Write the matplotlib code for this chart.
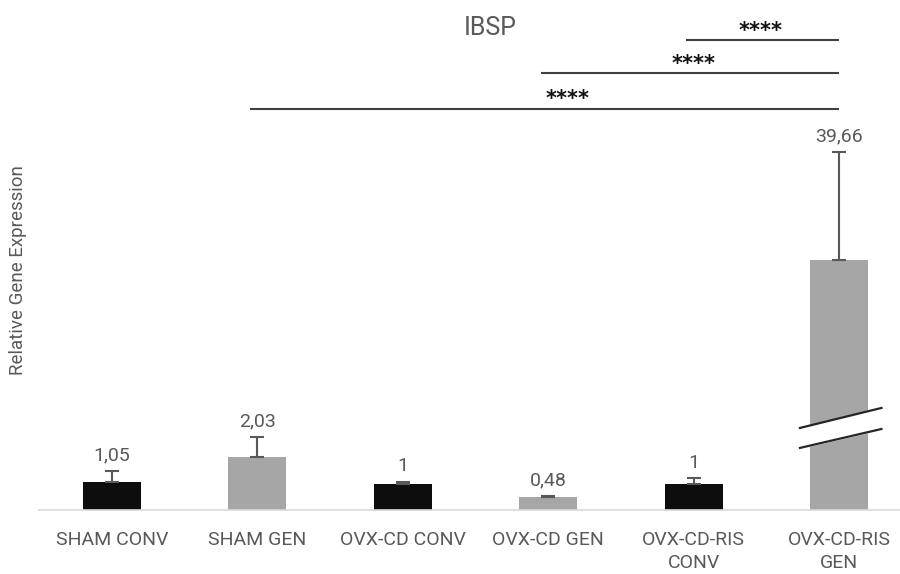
import matplotlib
matplotlib.use('Agg')
from matplotlib import pyplot as plt

# data
groups = ['SHAM CONV', 'SHAM GEN', 'OVX-CD CONV', 'OVX-CD GEN',
          'OVX-CD-RIS\nCONV', 'OVX-CD-RIS\nGEN']
values = [1.05, 2.03, 1.0, 0.48, 1.0, 39.66]
value_labels = ['1,05', '2,03', '1', '0,48', '1', '39,66']
errors = [0.45, 0.76, 0.08, 0.05, 0.2, 4.1]
colours = ['#0d0d0d', '#a6a6a6', '#0d0d0d', '#a6a6a6', '#0d0d0d', '#a6a6a6']

# broken bar: last bar is drawn cut at this height (axis break)
break_height = 9.5
break_at = 3.0

# significance comparisons (from group, to group, label)
comparisons = [(4, 5, '****'), (3, 5, '****'), (1, 5, '****')]
comp_levels = [17.87, 16.6, 15.25]
star_x = [4.46, 4.0, 3.13]

grey = '#595959'

fig = plt.figure(figsize=(9, 5.74), dpi=100)
ax = fig.add_axes([39 / 900, 64 / 574, 873 / 900, 510 / 574])

x = list(range(len(groups)))
heights = values[:-1] + [break_height]
ax.bar(x, heights, width=0.4, color=colours, zorder=2)
ax.errorbar(x, heights, yerr=[[0] * len(x), errors], fmt='none',
            ecolor=grey, elinewidth=1.5, capsize=5, capthick=1.5, zorder=3)

for i in x:
    top = heights[i] + errors[i]
    ax.text(i, top + 0.25, value_labels[i], ha='center', va='bottom',
            fontsize=14, color=grey, family='Roboto')

# axis break marks on the last bar
i = x[-1]
bx = [i - 0.27, i + 0.29]
lo = [break_at - 0.64, break_at + 0.08]
hi = [break_at + 0.12, break_at + 0.88]
ax.fill_between(bx, lo, hi, color='white', zorder=4)
ax.plot(bx, lo, color='#262626', lw=1.6, zorder=5)
ax.plot(bx, hi, color='#262626', lw=1.6, zorder=5)

# significance lines
for (a, b, lab), lev, sx in zip(comparisons, comp_levels, star_x):
    ax.plot([a - 0.05, b], [lev, lev], color='#404040', lw=1.5,
            solid_capstyle='butt')
    ax.text(sx, lev + 0.36, lab, ha='center', va='center', fontsize=15,
            fontweight='bold', color='#111111')

ax.set_xlim(-0.5, 5.5)
ax.set_ylim(0, 19.39)
ax.set_xticks(x)
ax.set_xticklabels(groups, fontsize=14, color=grey, family='Roboto',
                   linespacing=1.4)
ax.tick_params(axis='x', length=0, pad=15)
ax.set_yticks([])
for s in ['top', 'right', 'left']:
    ax.spines[s].set_visible(False)
ax.spines['bottom'].set_color('#d9d9d9')
ax.spines['bottom'].set_linewidth(1.2)

fig.text(490 / 900, 1 - 28 / 574, 'IBSP', ha='center', va='center',
         fontsize=18, color=grey, family='Roboto')
fig.text(18 / 900, 1 - 270 / 574, 'Relative Gene Expression', rotation=90,
         ha='center', va='center', fontsize=13.5, color=grey, family='Roboto')

plt.savefig('out.png', dpi=100)
plt.close()
